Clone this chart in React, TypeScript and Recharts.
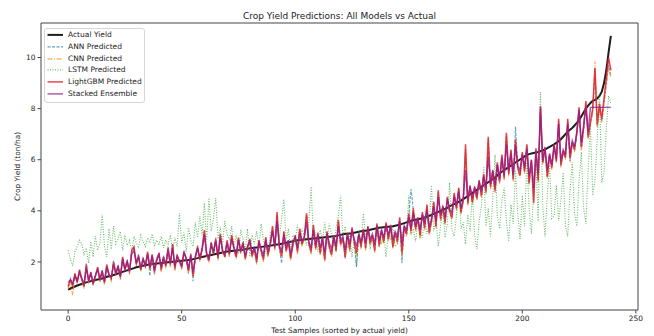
import React from "react";
import { LineChart, Line, XAxis, YAxis, ReferenceArea } from "recharts";

const actual = [
  0.92, 0.96, 1.0, 1.04, 1.08, 1.11, 1.14, 1.17, 1.2, 1.22,
  1.25, 1.27, 1.29, 1.31, 1.33, 1.35, 1.38, 1.42, 1.44, 1.46,
  1.49, 1.52, 1.55, 1.58, 1.61, 1.64, 1.67, 1.7, 1.73, 1.76,
  1.79, 1.81, 1.83, 1.85, 1.87, 1.89, 1.9, 1.92, 1.93, 1.94,
  1.95, 1.96, 1.97, 1.98, 1.99, 2.0, 2.01, 2.02, 2.03, 2.04,
  2.05, 2.06, 2.07, 2.08, 2.09, 2.11, 2.13, 2.15, 2.17, 2.19,
  2.21, 2.23, 2.25, 2.27, 2.29, 2.31, 2.33, 2.35, 2.37, 2.39,
  2.41, 2.42, 2.43, 2.44, 2.45, 2.46, 2.47, 2.48, 2.5, 2.52,
  2.54, 2.55, 2.56, 2.57, 2.58, 2.59, 2.6, 2.61, 2.62, 2.64,
  2.65, 2.67, 2.68, 2.69, 2.71, 2.73, 2.75, 2.77, 2.79, 2.81,
  2.83, 2.85, 2.86, 2.87, 2.88, 2.89, 2.9, 2.91, 2.92, 2.93,
  2.94, 2.95, 2.96, 2.97, 2.98, 2.99, 3.0, 3.01, 3.02, 3.04,
  3.06, 3.08, 3.09, 3.1, 3.11, 3.12, 3.14, 3.16, 3.18, 3.2,
  3.21, 3.22, 3.24, 3.26, 3.28, 3.3, 3.32, 3.34, 3.35, 3.36,
  3.37, 3.38, 3.39, 3.4, 3.42, 3.44, 3.46, 3.49, 3.52, 3.55,
  3.58, 3.61, 3.63, 3.65, 3.67, 3.69, 3.71, 3.74, 3.77, 3.8,
  3.84, 3.88, 3.92, 3.96, 4.0, 4.04, 4.08, 4.12, 4.17, 4.22,
  4.26, 4.3, 4.35, 4.4, 4.46, 4.52, 4.58, 4.64, 4.7, 4.76,
  4.82, 4.88, 4.94, 5.0, 5.06, 5.12, 5.18, 5.24, 5.3, 5.38,
  5.47, 5.53, 5.59, 5.65, 5.71, 5.77, 5.83, 5.89, 5.95, 6.01,
  6.07, 6.13, 6.19, 6.22, 6.24, 6.26, 6.28, 6.3, 6.33, 6.36,
  6.4, 6.45, 6.5, 6.55, 6.6, 6.66, 6.72, 6.8, 6.9, 7.0,
  7.1, 7.17, 7.24, 7.34, 7.44, 7.55, 7.7, 7.85, 8.0, 8.12,
  8.22, 8.3, 8.34, 8.4, 8.5, 8.66, 9.0, 9.5, 10.2, 10.85,
];

const annPred = [
  1.0, 1.35, 1.05, 1.5, 1.25, 1.65, 1.3, 1.0, 1.95, 1.2,
  1.55, 1.1, 1.5, 1.75, 1.25, 1.7, 1.15, 1.85, 1.55, 1.3,
  2.05, 1.5, 1.9, 1.35, 2.15, 1.75, 2.1, 1.55, 2.5, 2.55,
  1.9, 2.3, 1.65, 2.2, 1.8, 2.35, 1.45, 2.25, 1.55, 2.15,
  2.3, 1.65, 2.25, 1.8, 2.6, 1.85, 2.65, 1.7, 2.3, 2.0,
  1.75, 2.45, 2.1, 1.55, 2.35, 1.25, 2.15, 2.65, 2.05, 2.5,
  3.2, 2.25, 2.1, 2.8, 2.3, 2.95, 2.1, 3.05, 2.4, 2.25,
  2.8, 2.25, 3.0, 2.6, 2.15, 2.9, 2.35, 2.8, 2.1, 2.55,
  2.85, 2.2, 2.6, 1.95, 2.8, 2.4, 2.05, 3.0, 2.25, 2.65,
  3.35, 2.5, 3.85, 2.55, 1.95, 3.15, 2.4, 2.8, 2.1, 2.65,
  3.0, 2.35, 3.25, 2.65, 2.95, 3.85, 2.7, 2.35, 3.4, 2.5,
  3.1, 2.3, 2.9, 2.05, 3.15, 2.55, 2.25, 3.0, 2.4, 3.6,
  2.65, 2.9, 2.15, 3.1, 2.45, 3.3, 2.75, 1.8, 3.05, 2.55,
  3.25, 2.5, 3.35, 2.7, 3.0, 2.4, 3.45, 2.6, 3.2, 2.75,
  3.5, 2.85, 3.4, 2.55, 3.1, 2.75, 3.7, 1.95, 3.35, 3.05,
  3.85, 4.85, 4.05, 3.25, 3.7, 2.95, 3.9, 3.3, 4.2, 3.1,
  3.55, 4.3, 3.35, 4.75, 3.65, 4.15, 3.5, 4.5, 3.95, 3.7,
  4.65, 4.05, 4.85, 3.9, 4.4, 6.4, 4.25, 4.95, 4.3, 4.9,
  4.45, 5.15, 4.55, 5.4, 4.7, 6.8, 4.9, 5.55, 4.75, 5.85,
  5.1, 6.15, 5.25, 6.95, 5.4, 6.35, 5.2, 7.3, 5.65, 5.35,
  6.25, 5.5, 6.55, 5.05, 5.95, 4.5, 6.4, 5.15, 7.95, 5.85,
  6.45, 5.3, 6.15, 5.65, 6.55, 5.9, 7.5, 5.75, 6.3, 6.05,
  7.5, 5.95, 6.65, 6.35, 7.0, 7.9, 6.4, 7.2, 8.2, 6.85,
  7.4, 7.9, 9.4, 7.3, 8.1, 7.5, 8.3, 9.0, 9.7, 9.3,
];

const cnnPred = [
  0.95, 1.25, 0.7, 1.45, 1.15, 1.6, 1.25, 0.95, 1.85, 1.15,
  1.5, 1.05, 1.4, 1.7, 1.2, 1.6, 1.1, 1.8, 1.45, 1.25,
  1.95, 1.45, 1.8, 1.3, 2.1, 1.65, 2.0, 1.5, 2.4, 2.5,
  1.85, 2.2, 1.6, 2.1, 1.75, 2.3, 1.65, 2.2, 1.5, 2.05,
  2.25, 1.6, 2.15, 1.75, 2.5, 1.8, 2.6, 1.65, 2.2, 1.95,
  1.7, 2.35, 2.05, 1.55, 2.25, 1.4, 2.1, 2.55, 2.0, 2.45,
  3.15, 2.2, 2.0, 2.7, 2.25, 2.85, 2.05, 3.0, 2.35, 2.15,
  2.75, 2.2, 2.95, 2.5, 2.1, 2.85, 2.3, 2.7, 2.05, 2.5,
  2.8, 2.15, 2.5, 1.9, 2.75, 2.35, 2.0, 2.9, 2.2, 2.6,
  3.3, 2.45, 3.8, 2.5, 2.15, 3.1, 2.35, 2.75, 2.05, 2.6,
  2.95, 2.3, 3.2, 2.6, 2.9, 3.8, 2.65, 2.3, 3.35, 2.45,
  3.05, 2.25, 2.85, 2.0, 3.1, 2.5, 2.2, 2.95, 2.35, 3.55,
  2.6, 2.85, 2.1, 3.05, 2.4, 3.25, 2.7, 2.25, 3.0, 2.5,
  3.2, 2.45, 3.3, 2.65, 2.95, 2.35, 3.4, 2.55, 3.15, 2.7,
  3.45, 2.8, 3.35, 2.5, 3.05, 2.7, 3.65, 2.2, 3.3, 3.0,
  3.8, 3.1, 4.0, 3.2, 3.65, 2.9, 3.85, 3.25, 4.15, 3.05,
  3.5, 4.25, 3.3, 4.7, 3.6, 4.1, 3.45, 4.45, 3.9, 3.65,
  4.6, 4.0, 4.8, 3.85, 4.35, 6.3, 4.2, 4.9, 4.25, 4.85,
  4.4, 5.1, 4.5, 5.35, 4.65, 6.7, 4.85, 5.5, 4.7, 5.8,
  5.05, 6.1, 5.2, 6.9, 5.35, 6.3, 5.15, 6.7, 5.6, 5.3,
  6.2, 5.45, 6.5, 5.0, 5.9, 4.4, 6.35, 5.1, 7.9, 5.8,
  6.4, 5.25, 6.1, 5.6, 6.5, 5.85, 7.45, 5.7, 6.25, 6.0,
  7.45, 5.9, 6.6, 6.3, 6.95, 7.85, 6.35, 7.15, 8.1, 6.8,
  7.35, 7.8, 9.85, 7.25, 8.0, 7.45, 8.2, 8.9, 9.6, 9.2,
];

const lstmPred = [
  2.45, 2.1, 1.85, 2.4, 2.6, 2.85, 2.7, 2.3, 2.55, 1.95,
  2.8, 2.2, 3.0, 2.45, 2.75, 3.85, 2.6, 2.2, 3.3, 2.5,
  3.4, 2.7, 2.9, 3.2, 2.45, 3.05, 2.65, 2.85, 2.4, 3.0,
  2.75, 2.55, 3.05, 2.8, 2.6, 2.95, 2.75, 3.1, 2.65, 2.85,
  2.7, 3.0, 2.55, 2.85, 2.7, 3.05, 2.45, 2.95, 2.6, 3.9,
  2.75, 3.15, 2.4, 3.35, 2.85, 2.6, 3.55, 2.95, 3.8, 3.05,
  4.3, 2.8, 4.5, 3.2, 3.7, 4.5, 2.9, 3.35, 2.7, 3.6,
  3.1, 2.85, 3.4, 2.6, 3.05, 2.3, 3.25, 2.9, 2.45, 3.3,
  2.2, 3.05, 2.7, 3.2, 2.55, 3.5, 2.85, 2.4, 2.2, 3.15,
  3.2, 2.65, 3.4, 2.95, 3.7, 4.45, 2.85, 3.3, 2.5, 3.05,
  2.8, 3.45, 2.7, 3.3, 3.0, 2.65, 3.6, 4.95, 2.9, 3.15,
  2.4, 3.25, 2.85, 3.55, 2.7, 3.5, 3.05, 2.6, 3.35, 3.8,
  4.6, 2.95, 3.4, 2.55, 3.1, 2.2, 2.9, 1.8, 3.25, 2.75,
  3.9, 2.95, 3.3, 2.5, 3.05, 2.8, 3.5, 3.2, 2.7, 3.15,
  2.2, 3.1, 2.85, 3.35, 2.6, 2.7, 3.4, 2.9, 3.5, 3.15,
  4.6, 3.05, 3.3, 2.8, 3.55, 3.2, 2.95, 3.8, 3.1, 3.45,
  5.0, 3.2, 3.7, 2.6, 3.4, 4.0, 2.95, 3.5, 5.1, 3.25,
  3.0, 3.8, 4.9, 3.3, 3.55, 2.7, 3.85, 3.2, 4.7, 3.05,
  2.5, 3.6, 4.2, 5.7, 3.4, 4.1, 3.0, 4.5, 6.2, 3.8,
  3.3, 4.4, 4.9, 3.6, 2.8, 4.25, 3.5, 5.6, 3.9, 2.9,
  4.6, 3.4, 6.0, 4.1, 3.1, 4.7, 5.9, 3.6, 8.65, 4.2,
  3.0, 4.6, 5.8, 3.7, 3.8, 5.0, 3.6, 4.4, 5.5, 3.4,
  3.0, 4.8, 5.9, 3.9, 3.4, 5.2, 6.3, 4.1, 3.5, 5.6,
  7.4, 4.6, 5.2, 6.8, 8.6, 5.1, 5.5, 7.2, 8.5, 8.2,
];

const lgbmPred = [
  1.05, 1.3, 1.1, 1.55, 1.2, 1.7, 1.35, 1.05, 1.9, 1.25,
  1.6, 1.15, 1.45, 1.8, 1.3, 1.65, 1.2, 1.9, 1.5, 1.35,
  2.0, 1.55, 1.85, 1.4, 2.2, 1.7, 2.05, 1.6, 2.45, 2.6,
  1.95, 2.25, 1.7, 2.15, 1.85, 2.4, 1.75, 2.3, 1.6, 2.1,
  2.35, 1.7, 2.2, 1.85, 2.55, 1.9, 2.7, 1.75, 2.25, 2.05,
  1.8, 2.4, 2.15, 1.65, 2.3, 1.45, 2.2, 2.6, 2.1, 2.55,
  3.25, 2.3, 2.05, 2.75, 2.35, 2.9, 2.15, 3.1, 2.45, 2.2,
  2.85, 2.3, 3.05, 2.55, 2.2, 2.95, 2.4, 2.75, 2.15, 2.6,
  2.9, 2.25, 2.55, 2.0, 2.85, 2.45, 2.1, 2.95, 2.3, 2.7,
  3.4, 2.55, 3.95, 2.6, 2.25, 3.2, 2.45, 2.85, 2.15, 2.7,
  3.05, 2.4, 3.3, 2.7, 3.0, 3.9, 2.75, 2.4, 3.45, 2.55,
  3.15, 2.35, 2.95, 2.1, 3.2, 2.6, 2.3, 3.05, 2.45, 3.65,
  2.7, 2.95, 2.2, 3.15, 2.5, 3.35, 2.8, 2.35, 3.1, 2.6,
  3.3, 2.55, 3.4, 2.75, 3.05, 2.45, 3.5, 2.65, 3.25, 2.8,
  3.55, 2.9, 3.45, 2.6, 3.15, 2.8, 3.75, 2.35, 3.4, 3.1,
  3.9, 3.2, 4.1, 3.3, 3.75, 3.05, 3.95, 3.35, 4.25, 3.15,
  3.6, 4.35, 3.4, 4.8, 3.7, 4.2, 3.55, 4.55, 4.0, 3.75,
  4.7, 4.1, 4.9, 3.95, 4.45, 6.6, 4.3, 5.0, 4.35, 4.95,
  4.5, 5.2, 4.6, 5.45, 4.75, 6.9, 4.95, 5.6, 4.8, 5.9,
  5.15, 6.2, 5.3, 7.05, 5.45, 6.4, 5.25, 6.8, 5.7, 5.4,
  6.3, 5.55, 6.6, 5.1, 6.0, 4.3, 6.45, 5.2, 8.1, 5.9,
  6.5, 5.35, 6.2, 5.7, 6.6, 5.95, 7.6, 5.8, 6.35, 6.1,
  7.6, 6.05, 6.7, 6.4, 7.1, 8.05, 6.5, 7.3, 8.3, 6.9,
  7.5, 8.0, 9.6, 7.4, 8.2, 7.6, 8.4, 9.2, 10.0, 9.5,
];

const stackedPred = [
  1.2, 1.3, 1.15, 1.45, 1.25, 1.6, 1.35, 1.15, 1.75, 1.3,
  1.55, 1.2, 1.45, 1.7, 1.35, 1.6, 1.25, 1.8, 1.5, 1.4,
  1.9, 1.55, 1.8, 1.45, 2.1, 1.7, 2.0, 1.65, 2.3, 2.45,
  1.95, 2.2, 1.75, 2.1, 1.85, 2.3, 1.8, 2.25, 1.7, 2.05,
  2.3, 1.8, 2.15, 1.9, 2.45, 1.95, 2.55, 1.85, 2.2, 2.05,
  1.85, 2.35, 2.15, 1.75, 2.25, 1.6, 2.2, 2.5, 2.15, 2.45,
  3.05, 2.35, 2.15, 2.65, 2.4, 2.8, 2.25, 2.95, 2.45, 2.3,
  2.75, 2.35, 2.9, 2.55, 2.3, 2.85, 2.45, 2.7, 2.25, 2.6,
  2.8, 2.35, 2.55, 2.15, 2.8, 2.5, 2.25, 2.85, 2.4, 2.7,
  3.2, 2.6, 3.6, 2.65, 2.4, 3.05, 2.55, 2.85, 2.3, 2.75,
  2.95, 2.55, 3.15, 2.8, 2.95, 3.55, 2.8, 2.55, 3.25, 2.65,
  3.05, 2.55, 2.95, 2.35, 3.1, 2.75, 2.5, 3.0, 2.6, 3.4,
  2.85, 3.0, 2.45, 3.1, 2.7, 3.25, 2.9, 2.6, 3.1, 2.75,
  3.2, 2.75, 3.35, 2.9, 3.1, 2.7, 3.4, 2.85, 3.25, 2.95,
  3.45, 3.05, 3.4, 2.85, 3.2, 3.0, 3.6, 2.7, 3.4, 3.25,
  3.75, 3.3, 3.9, 3.4, 3.7, 3.25, 3.85, 3.5, 4.05, 3.35,
  3.7, 4.15, 3.6, 4.55, 3.85, 4.15, 3.75, 4.45, 4.05, 3.95,
  4.55, 4.2, 4.75, 4.1, 4.5, 5.6, 4.45, 4.95, 4.5, 4.9,
  4.65, 5.15, 4.75, 5.35, 4.9, 6.1, 5.05, 5.55, 5.0, 5.8,
  5.25, 6.05, 5.4, 6.6, 5.55, 6.25, 5.4, 6.55, 5.75, 5.6,
  6.2, 5.7, 6.45, 5.35, 6.0, 4.9, 6.35, 5.45, 8.05, 5.95,
  6.45, 5.6, 6.25, 5.8, 6.55, 6.05, 7.4, 5.95, 6.4, 6.2,
  7.4, 6.25, 6.75, 6.5, 7.05, 7.95, 6.65, 7.3, 8.05, 7.1,
  8.05, 8.05, 8.05, 8.05, 8.05, 8.05, 8.05, 8.05, 8.05, 8.05,
];

const xTicks = [0, 50, 100, 150, 200, 250];
const yTicks = [2, 4, 6, 8, 10];
const xDomain = [-11.95, 250.95];
const yDomain = [0.12, 11.35];

const chartTitle = "Crop Yield Predictions: All Models vs Actual";
const xLabel = "Test Samples (sorted by actual yield)";
const yLabel = "Crop Yield (ton/ha)";

const data = actual.map((a, i) => ({
  idx: i,
  actual: a,
  ann: annPred[i],
  cnn: cnnPred[i],
  lstm: lstmPred[i],
  lgbm: lgbmPred[i],
  stacked: stackedPred[i],
}));

const series = [
  { key: "actual", name: "Actual Yield", color: "#111111", width: 2, dash: undefined, opacity: 0.95 },
  { key: "ann", name: "ANN Predicted", color: "#1f77b4", width: 1.1, dash: "3 1.5", opacity: 0.7 },
  { key: "cnn", name: "CNN Predicted", color: "#ff7f0e", width: 1.1, dash: "5 1.5 1 1.5", opacity: 0.7 },
  { key: "lstm", name: "LSTM Predicted", color: "#2ca02c", width: 1.1, dash: "1 1.5", opacity: 0.7 },
  { key: "lgbm", name: "LightGBM Predicted", color: "#e0252e", width: 1.5, dash: undefined, opacity: 0.85 },
  { key: "stacked", name: "Stacked Ensemble", color: "#8a1a96", width: 1.4, dash: undefined, opacity: 0.75 },
];

const FONT = "'DejaVu Sans', sans-serif";

function LegendBox() {
  return (
    <div
      style={{
        position: "absolute",
        left: 44,
        top: 28,
        border: "1px solid #d6d6d6",
        borderRadius: 3,
        background: "rgba(255,255,255,0.85)",
        width: 99,
        padding: "0 0 2px 0",
        fontFamily: FONT,
        fontSize: 7.5,
        color: "#222",
      }}
    >
      {series.map((s) => (
        <div key={s.key} style={{ height: 11.8, display: "flex", alignItems: "center" }}>
          <svg width={22} height={11.8} style={{ flex: "none" }}>
            <line
              x1={2.5}
              x2={18}
              y1={5.9}
              y2={5.9}
              stroke={s.color}
              strokeWidth={s.width}
              strokeOpacity={s.opacity}
              strokeDasharray={s.dash}
            />
          </svg>
          <span style={{ marginLeft: 1, whiteSpace: "nowrap", lineHeight: "11.8px" }}>{s.name}</span>
        </div>
      ))}
    </div>
  );
}

function YAxisLabel(props: any) {
  const vb = props.viewBox || { x: 0, y: 0, width: 0, height: 0 };
  const cx = 17;
  const cy = vb.y + vb.height / 2;
  return (
    <text
      x={cx}
      y={cy}
      transform={`rotate(-90 ${cx} ${cy})`}
      textAnchor="middle"
      dominantBaseline="central"
      fontSize={7.4}
      fontFamily={FONT}
      fill="#222"
    >
      {yLabel}
    </text>
  );
}

function XAxisLabel(props: any) {
  const vb = props.viewBox || { x: 0, y: 0, width: 0, height: 0 };
  return (
    <text
      x={vb.x + vb.width / 2}
      y={vb.y + 20}
      textAnchor="middle"
      dominantBaseline="central"
      fontSize={7.4}
      fontFamily={FONT}
      fill="#222"
    >
      {xLabel}
    </text>
  );
}

export default function App() {
  return (
    <div style={{ position: "absolute", left: 0, top: 0, width: 654, height: 336, background: "#fff", fontFamily: FONT }}>
      <LineChart
        width={654}
        height={336}
        data={data}
        margin={{ top: 23, right: 16, left: 0, bottom: 0 }}
        style={{ position: "absolute", left: 0, top: 0 }}
      >
        <XAxis
          dataKey="idx"
          type="number"
          domain={xDomain}
          ticks={xTicks}
          allowDataOverflow
          height={26}
          axisLine={false}
          tickSize={3.5}
          tickLine={{ stroke: "#444" }}
          tick={{ fontSize: 7.4, fill: "#222", fontFamily: FONT }}
          label={<XAxisLabel />}
        />
        <YAxis
          type="number"
          domain={yDomain}
          ticks={yTicks}
          allowDataOverflow
          width={41}
          axisLine={false}
          tickSize={3.5}
          tickLine={{ stroke: "#444" }}
          tick={{ fontSize: 7.4, fill: "#222", fontFamily: FONT }}
          label={<YAxisLabel />}
        />
        <ReferenceArea
          x1={xDomain[0]}
          x2={xDomain[1]}
          y1={yDomain[0]}
          y2={yDomain[1]}
          fill="none"
          stroke="#444"
          strokeWidth={1}
          ifOverflow="visible"
        />
        {series.map((s) => (
          <Line
            key={s.key}
            type="linear"
            dataKey={s.key}
            name={s.name}
            stroke={s.color}
            strokeWidth={s.width}
            strokeOpacity={s.opacity}
            strokeDasharray={s.dash}
            dot={false}
            activeDot={false}
            isAnimationActive={false}
          />
        ))}
      </LineChart>
      <div
        style={{
          position: "absolute",
          left: 41,
          top: 10,
          width: 597,
          textAlign: "center",
          fontSize: 9,
          lineHeight: "12px",
          color: "#222",
        }}
      >
        {chartTitle}
      </div>
      <LegendBox />
    </div>
  );
}
